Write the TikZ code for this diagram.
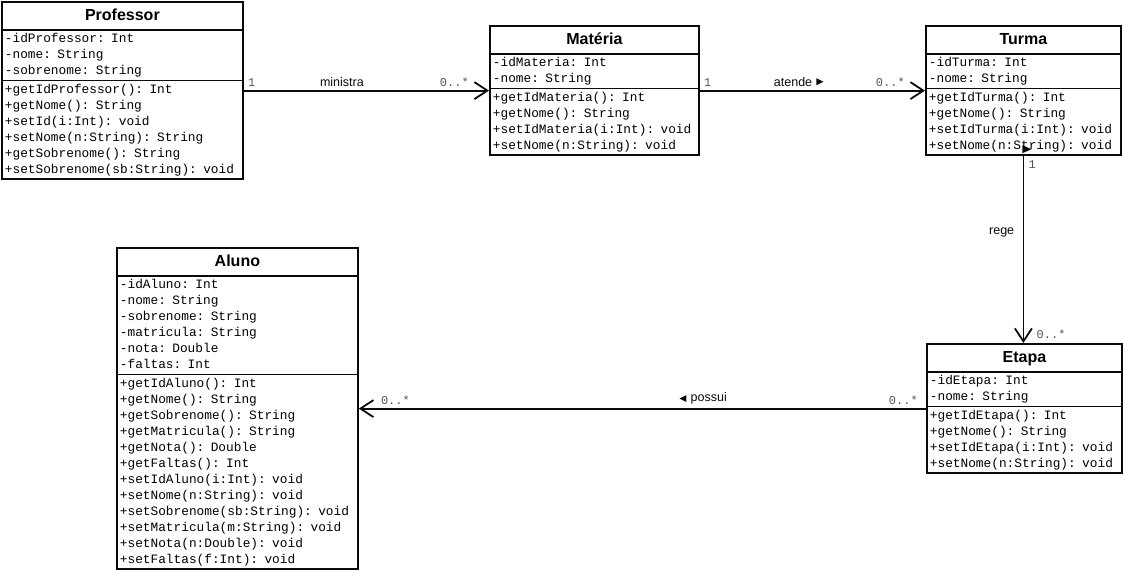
\documentclass[tikz,border=0pt]{standalone}
\usepackage{fontspec}
\setsansfont{Liberation Sans}
\setmonofont{Liberation Mono}
\usetikzlibrary{arrows.meta,positioning,shapes.multipart}
\definecolor{ink}{RGB}{10,10,10}
\definecolor{note}{RGB}{85,85,85}
\newcommand{\classname}[1]{\hfill{\fontsize{16}{25}\selectfont\sffamily\bfseries\strut#1}\hfill\null}
\tikzset{
  >={Straight Barb[length=13pt,width=17pt]},
  uml/.style={rectangle split,rectangle split parts=3,draw=ink,line width=1.8pt,
    anchor=north west,text width=#1,align=left,inner xsep=3pt,inner ysep=0.5pt,
    font=\fontsize{12.8}{16}\selectfont\ttfamily},
  assoc/.style={->,line width=1.8pt,draw=ink},
  mult/.style={font=\fontsize{12}{14}\selectfont\ttfamily,text=note},
  rel/.style={font=\fontsize{12.5}{15}\selectfont\sffamily,text=ink},
}

\begin{document}
\begin{tikzpicture}[x=1pt,y=1pt]
    \useasboundingbox (0,0) rectangle (1123,-573);
    % classes
    \node[uml=235] (prof) at (1,-1) {\classname{Professor}
      \nodepart{two}\strut-idProfessor: Int\\ -nome: String\\ -sobrenome: String\strut
      \nodepart{three}\strut+getIdProfessor(): Int\\ +getNome(): String\\ +setId(i:Int): void\\
        +setNome(n:String): String\\ +getSobrenome(): String\\ +setSobrenome(sb:String): void\strut};
    \node[uml=203] (mat) at (489,-25) {\classname{Matéria}
      \nodepart{two}\strut-idMateria: Int\\ -nome: String\strut
      \nodepart{three}\strut+getIdMateria(): Int\\ +getNome(): String\\
        +setIdMateria(i:Int): void\\ +setNome(n:String): void\strut};
    \node[uml=189] (tur) at (925,-25) {\classname{Turma}
      \nodepart{two}\strut-idTurma: Int\\ -nome: String\strut
      \nodepart{three}\strut+getIdTurma(): Int\\ +getNome(): String\\
        +setIdTurma(i:Int): void\\ +setNome(n:String): void\strut};
    \node[uml=189] (eta) at (926,-343) {\classname{Etapa}
      \nodepart{two}\strut-idEtapa: Int\\ -nome: String\strut
      \nodepart{three}\strut+getIdEtapa(): Int\\ +getNome(): String\\
        +setIdEtapa(i:Int): void\\ +setNome(n:String): void\strut};
    \node[uml=235] (alu) at (116,-247) {\classname{Aluno}
      \nodepart{two}\strut-idAluno: Int\\ -nome: String\\ -sobrenome: String\\
        -matricula: String\\ -nota: Double\\ -faltas: Int\strut
      \nodepart{three}\strut+getIdAluno(): Int\\ +getNome(): String\\ +getSobrenome(): String\\
        +getMatricula(): String\\ +getNota(): Double\\ +getFaltas(): Int\\
        +setIdAluno(i:Int): void\\ +setNome(n:String): void\\ +setSobrenome(sb:String): void\\
        +setMatricula(m:String): void\\ +setNota(n:Double): void\\ +setFaltas(f:Int): void\strut};
    % associations
    \draw[assoc] (prof.east) -- (prof.east -| mat.west)
      node[mult,pos=0,above right] {1}
      node[rel,pos=0.4,above] {ministra}
      node[mult,pos=1,above left,xshift=-16pt] {0..*};
    \draw[assoc] (mat.east) -- (mat.east -| tur.west)
      node[mult,pos=0,above right] {1}
      node[rel,pos=0.414,above] (atd) {atende}
      node[mult,pos=1,above left,xshift=-16pt] {0..*};
    \fill[ink] ([yshift=-3.5pt]atd.east) -- ++(0,7) -- ++(7,-3.5) -- cycle;
    \draw[assoc] (tur.south) -- (tur.south |- eta.north)
      node[mult,pos=0,below right,xshift=1pt] {1}
      node[rel,pos=0.41,left,xshift=-5pt] {rege}
      node[mult,pos=1,above right,xshift=9pt] {0..*};
    \fill[ink] ([shift={(-1pt,3pt)}]tur.south) -- ++(0,8) -- ++(9,-4) -- cycle;
    \draw[assoc] (eta.west) -- (eta.west -| alu.east)
      node[mult,pos=0,above left,xshift=-4pt] {0..*}
      node[rel,pos=0.383,above] (pss) {possui}
      node[mult,pos=1,above right,xshift=18pt] {0..*};
    \fill[ink] ([yshift=-3.5pt]pss.west) -- ++(0,7) -- ++(-7,-3.5) -- cycle;
\end{tikzpicture}
\end{document}
